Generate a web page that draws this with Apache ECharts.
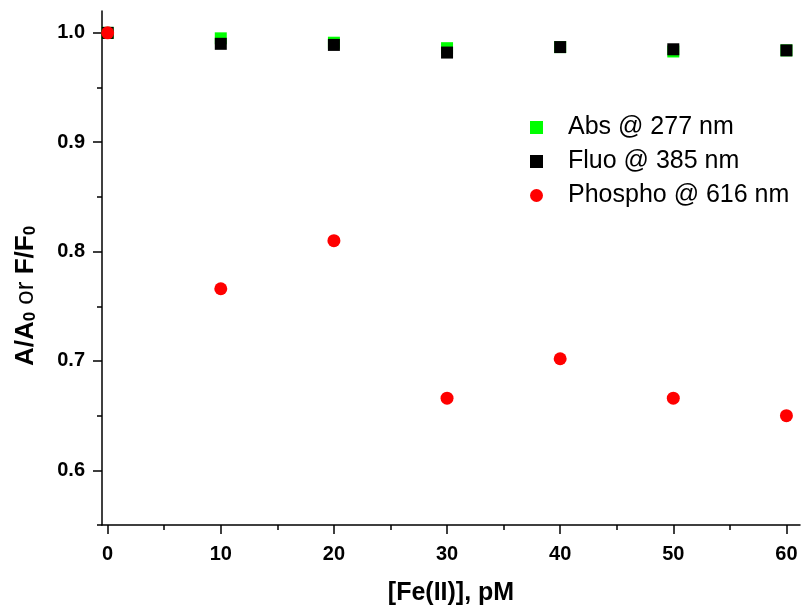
<!DOCTYPE html>
<html>
<head>
<meta charset="utf-8">
<title>Normalized response vs Fe(II)</title>
<script src="https://cdn.jsdelivr.net/npm/echarts@6.0.0/dist/echarts.min.js"></script>
<style>
  html, body { margin: 0; padding: 0; background: #fff; }
  #chart { width: 801px; height: 611px; }
</style>
</head>
<body>
<div id="chart"></div>
<script>
// Fe(II) concentration (pM)
const feConc = [0, 10, 20, 30, 40, 50, 60];

// Normalized signals
const absValues = [1.000, 0.995, 0.991, 0.986, 0.987, 0.983, 0.984];
const fluoValues = [1.000, 0.990, 0.989, 0.982, 0.987, 0.985, 0.984];
const phosphoValues = [1.000, 0.766, 0.810, 0.666, 0.702, 0.666, 0.650];

// Series names
const seriesNames = ['Abs @ 277 nm', 'Fluo @ 385 nm', 'Phospho @ 616 nm'];

// Tick positions
const xMajorTicks = [0, 10, 20, 30, 40, 50, 60];
const xMinorTicks = [5, 15, 25, 35, 45, 55];
const yMajorTicks = [0.6, 0.7, 0.8, 0.9, 1.0];
const yMinorTicks = [0.55, 0.65, 0.75, 0.85, 0.95];

const pairs = vals => feConc.map((x, i) => [x, vals[i]]);

const FONT = 'Liberation Sans, Arial, sans-serif';
const axisLineStyle = { color: '#000', width: 1.5 };

const chart = echarts.init(document.getElementById('chart'), null, { renderer: 'canvas' });

chart.setOption({
  animation: false,
  backgroundColor: '#fff',
  textStyle: { fontFamily: FONT },
  grid: { left: 102, right: 1, top: 11, bottom: 84, containLabel: false },
  legend: {
    orient: 'vertical',
    left: 525,
    top: 110,
    itemWidth: 13,
    itemHeight: 13,
    itemGap: 9,
    data: seriesNames,
    textStyle: {
      fontFamily: FONT,
      fontSize: 25,
      lineHeight: 25,
      color: '#000',
      padding: [0, 0, 0, 20]
    }
  },
  xAxis: [
    {
      type: 'value',
      min: -0.5,
      max: 61.2,
      name: '[Fe(II)], pM',
      nameLocation: 'middle',
      nameGap: 56,
      nameTextStyle: { fontFamily: FONT, fontSize: 25, fontWeight: 'bold', color: '#000' },
      axisLine: { show: true, onZero: false, lineStyle: axisLineStyle },
      axisTick: { show: true, length: 9, customValues: xMajorTicks, lineStyle: axisLineStyle },
      axisLabel: {
        customValues: xMajorTicks,
        margin: 19,
        fontFamily: FONT, fontSize: 20, fontWeight: 'bold', color: '#000'
      },
      splitLine: { show: false }
    },
    {
      type: 'value',
      min: -0.5,
      max: 61.2,
      position: 'bottom',
      axisLine: { show: false, onZero: false },
      axisTick: { show: true, length: 5, customValues: xMinorTicks, lineStyle: axisLineStyle },
      axisLabel: { show: false },
      splitLine: { show: false }
    }
  ],
  yAxis: [
    {
      type: 'value',
      min: 0.55,
      max: 1.02,
      name: '{b|A/A}{s|0}{n| or }{b|F/F}{s|0}',
      nameLocation: 'middle',
      nameGap: 63,
      nameTextStyle: {
        color: '#000',
        padding: [0, 56, 0, 0],
        rich: {
          b: { fontFamily: FONT, fontSize: 26, fontWeight: 'bold', color: '#000', lineHeight: 30, verticalAlign: 'bottom' },
          n: { fontFamily: FONT, fontSize: 26, fontWeight: 'normal', color: '#000', lineHeight: 30, verticalAlign: 'bottom' },
          s: { fontFamily: FONT, fontSize: 17, fontWeight: 'bold', color: '#000', lineHeight: 23, verticalAlign: 'bottom' }
        }
      },
      axisLine: { show: true, onZero: false, lineStyle: axisLineStyle },
      axisTick: { show: true, length: 9, customValues: yMajorTicks, lineStyle: axisLineStyle },
      axisLabel: {
        customValues: yMajorTicks,
        margin: 17,
        formatter: v => v.toFixed(1),
        fontFamily: FONT, fontSize: 20, fontWeight: 'bold', color: '#000'
      },
      splitLine: { show: false }
    },
    {
      type: 'value',
      min: 0.55,
      max: 1.02,
      position: 'left',
      axisLine: { show: false, onZero: false },
      axisTick: { show: true, length: 5, customValues: yMinorTicks, lineStyle: axisLineStyle },
      axisLabel: { show: false },
      splitLine: { show: false }
    }
  ],
  series: [
    {
      name: seriesNames[0],
      type: 'scatter',
      symbol: 'rect',
      symbolSize: 12,
      itemStyle: { color: '#00ff00', opacity: 1 },
      data: pairs(absValues),
      z: 2
    },
    {
      name: seriesNames[1],
      type: 'scatter',
      symbol: 'rect',
      symbolSize: 12,
      itemStyle: { color: '#000000', opacity: 1 },
      data: pairs(fluoValues),
      z: 3
    },
    {
      name: seriesNames[2],
      type: 'scatter',
      symbol: 'circle',
      symbolSize: 13,
      itemStyle: { color: '#ff0000', opacity: 1 },
      data: pairs(phosphoValues),
      z: 4
    }
  ]
});
</script>
</body>
</html>
